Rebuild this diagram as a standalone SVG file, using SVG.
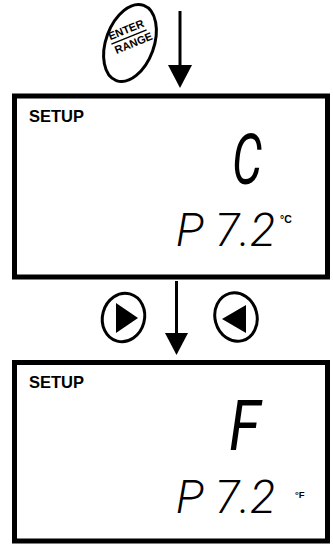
<svg xmlns="http://www.w3.org/2000/svg" width="333" height="544" viewBox="0 0 333 544">
<style>
.box{fill:#fff;stroke:#000;stroke-width:5}
.lbl{font-family:"Liberation Sans",Arial,sans-serif;font-weight:bold;fill:#000}
.seg{font-family:Roboto,"DejaVu Sans",sans-serif;font-style:italic;font-weight:300;fill:#000}
.big{font-weight:400}
.btn{fill:#fff;stroke:#000;stroke-width:3}
.conn{stroke:#000;stroke-width:3;fill:none}
.head{fill:#000}
</style>
<rect width="333" height="544" fill="#fff"/>
<g id="enter-range-button">
  <ellipse class="btn" cx="130" cy="43" rx="24" ry="40" transform="rotate(20 130 43)"/>
  <g transform="rotate(-22 129 37)">
    <text class="lbl" x="129" y="33" font-size="11" text-anchor="middle">ENTER</text>
    <line x1="110" y1="37" x2="148" y2="37" stroke="#000" stroke-width="1.5"/>
    <text class="lbl" x="131" y="48" font-size="11" text-anchor="middle">RANGE</text>
  </g>
</g>
<g id="display-celsius">
  <rect class="box" x="14.5" y="96" width="313" height="181"/>
  <text class="lbl" x="29" y="122" font-size="16.5">SETUP</text>
  <text class="seg big" x="232" y="184" font-size="70" textLength="30" lengthAdjust="spacingAndGlyphs">C</text>
  <text class="seg" x="176" y="246" font-size="47" textLength="99" lengthAdjust="spacingAndGlyphs">P 7.2</text>
  <text class="lbl" x="280" y="223" font-size="10.5">°C</text>
</g>
<g id="right-button">
  <ellipse class="btn" cx="123.5" cy="317.5" rx="21" ry="24.5" transform="rotate(15 123.5 317.5)"/>
  <polygon points="116,303 116,333 138,318" fill="#000"/>
</g>
<g id="left-button">
  <ellipse class="btn" cx="236" cy="317" rx="21" ry="24.5" transform="rotate(-15 236 317)"/>
  <polygon points="246,305 246,333 222,319" fill="#000"/>
</g>
<g id="display-fahrenheit">
  <rect class="box" x="14.5" y="362.5" width="313" height="178.5"/>
  <text class="lbl" x="29" y="388" font-size="16.5">SETUP</text>
  <text class="seg big" x="229" y="450" font-size="70" textLength="31" lengthAdjust="spacingAndGlyphs">F</text>
  <text class="seg" x="176" y="513" font-size="47" textLength="99" lengthAdjust="spacingAndGlyphs">P 7.2</text>
  <text class="lbl" x="295" y="498" font-size="9.5">°F</text>
</g>
<g id="connectors">
  <line class="conn" x1="180" y1="11" x2="180" y2="68"/>
  <polygon class="head" points="168,65 192,65 180,88"/>
  <line class="conn" x1="176.5" y1="281" x2="176.5" y2="336"/>
  <polygon class="head" points="165,333 188,333 176.5,355"/>
</g>
</svg>
